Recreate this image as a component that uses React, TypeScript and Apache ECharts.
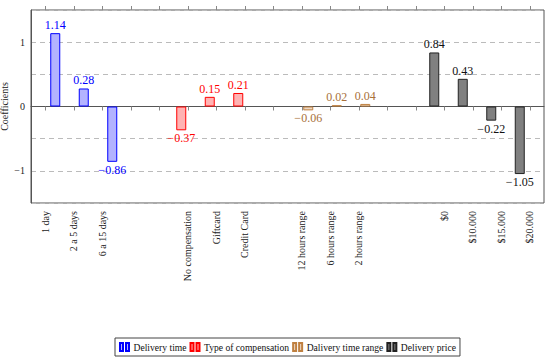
import React, { useEffect, useRef } from "react";
import * as echarts from "echarts";

// Categories per group
const deliveryTimeCats = ["1 day", "2 a 5 days", "6 a 15 days"];
const compensationCats = ["No compensation", "Giftcard", "Credit Card"];
const timeRangeCats = ["12 hours range", "6 hours range", "2 hours range"];
const priceCats = ["$0", "$10.000", "$15.000", "$20.000"];

// Coefficients per group
const deliveryTimeVals = [1.14, 0.28, -0.86];
const compensationVals = [-0.37, 0.15, 0.21];
const timeRangeVals = [-0.06, 0.02, 0.04];
const priceVals = [0.84, 0.43, -0.22, -1.05];

// Axis categories (blank slots separate the groups)
const categories = [
  ...deliveryTimeCats, "", "",
  ...compensationCats, "",
  ...timeRangeCats, "", "",
  ...priceCats,
];

const yTicks = [-1, 0, 1];

const FONT = "'Liberation Serif', 'DejaVu Serif', serif";

const fmt = (v: number) => (v < 0 ? "\u2212" + Math.abs(v).toFixed(2) : v.toFixed(2));

function makeData(cats: string[], vals: number[]) {
  return vals.map((v, i) => ({
    value: [cats[i], v],
    label: { position: v < 0 ? "bottom" : "top" },
  }));
}

function barSeries(
  name: string,
  axisIndex: number,
  cats: string[],
  vals: number[],
  fill: string,
  stroke: string,
  textColor: string,
  extra: any = {}
) {
  return {
    type: "bar",
    name,
    xAxisIndex: axisIndex,
    barWidth: 10,
    data: makeData(cats, vals),
    itemStyle: { color: fill, borderColor: stroke, borderWidth: 1 },
    label: {
      show: true,
      color: textColor,
      fontSize: 12,
      fontFamily: FONT,
      distance: 2,
      formatter: (p: any) => fmt(p.value[1]),
    },
    ...extra,
  };
}

export default function App() {
  const ref = useRef<HTMLDivElement>(null);
  useEffect(() => {
    if (!ref.current) return;
    const chart = echarts.init(ref.current, undefined, { renderer: "svg" });
    const axisColor = "#555";
    chart.setOption({
      animation: false,
      textStyle: { fontFamily: FONT },
      grid: {
        left: 31,
        right: 6,
        top: 10,
        bottom: 159,
        show: true,
        borderColor: axisColor,
        borderWidth: 1,
        backgroundColor: "transparent",
        containLabel: false,
        outerBoundsMode: "none",
      },
      legend: {
        data: ["Delivery time", "Type of compensation", "Dalivery time range", "Delivery price"],
        left: 115,
        top: 338,
        borderColor: "#444",
        borderWidth: 1,
        padding: [4, 4, 4, 4],
        itemGap: 3,
        itemWidth: 10,
        itemHeight: 8,
        icon: "path://M0,0H3V8H0Z M6,0H9V8H6Z",
        textStyle: { fontSize: 9.6, color: "#111", fontFamily: FONT, padding: [0, 0, 0, -1] },
      },
      xAxis: [
        {
          type: "category",
          data: categories,
          position: "bottom",
          boundaryGap: true,
          axisLine: { show: true, lineStyle: { color: axisColor } },
          axisTick: { show: true, alignWithLabel: true, interval: 0, length: 4, lineStyle: { color: "#888" } },
          axisLabel: { interval: 0, rotate: 90, fontSize: 10, color: "#222", margin: 8, fontFamily: FONT },
          splitLine: { show: false },
        },
        {
          type: "category",
          data: categories,
          position: "top",
          boundaryGap: true,
          axisLine: { show: false },
          axisTick: { show: true, alignWithLabel: true, interval: 0, length: 4, lineStyle: { color: "#888" } },
          axisLabel: { show: false },
          splitLine: { show: false },
        },
      ],
      yAxis: {
        type: "value",
        min: -1.5,
        max: 1.5,
        interval: 0.5,
        name: "Coefficients",
        nameLocation: "middle",
        nameGap: 22,
        nameRotate: 90,
        nameMoveOverlap: false,
        nameTextStyle: { fontSize: 10, color: "#222", fontFamily: FONT },
        axisLine: { show: true, lineStyle: { color: axisColor } },
        axisTick: { show: false },
        axisLabel: {
          fontSize: 10,
          color: "#222",
          margin: 6,
          fontFamily: FONT,
          showMinLabel: false,
          showMaxLabel: false,
          formatter: (v: number) =>
            yTicks.includes(v) ? (v < 0 ? "\u2212" + Math.abs(v) : String(v)) : "",
        },
        splitLine: { show: true, lineStyle: { color: "#bbb", type: [5, 4], width: 1 } },
      },
      series: [
        barSeries("Delivery price", 0, priceCats, priceVals, "#808080", "#222", "#111"),
        barSeries("Delivery time", 0, deliveryTimeCats, deliveryTimeVals, "#b3b3ff", "#0000ff", "#0000ff", { barGap: "100%" }),
        barSeries("Type of compensation", 1, compensationCats, compensationVals, "#ffb3b3", "#ff0000", "#ff0000"),
        barSeries("Dalivery time range", 1, timeRangeCats, timeRangeVals, "#ecd9c6", "#bf8040", "#a8703a", { barGap: "30%" }),
      ],
    });
    return () => chart.dispose();
  }, []);
  return <div ref={ref} style={{ width: 550, height: 362, position: "absolute", left: 0, top: 0 }} />;
}
